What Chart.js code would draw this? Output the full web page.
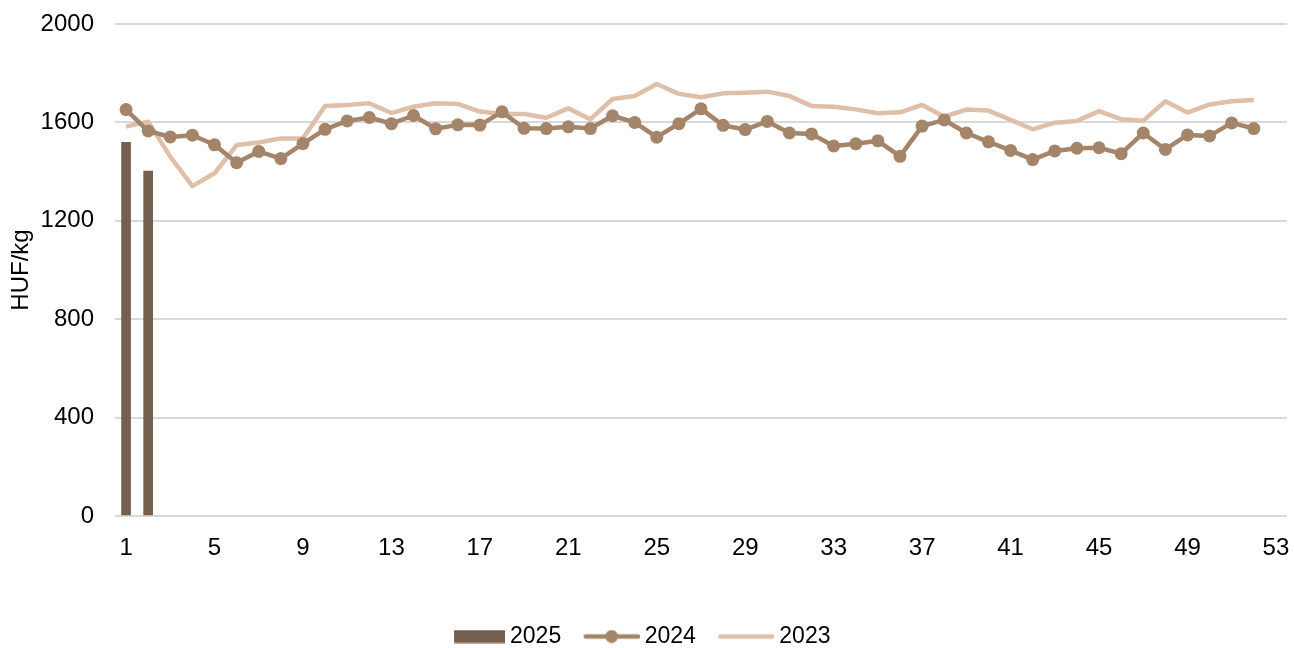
<!DOCTYPE html>
<html>
<head>
<meta charset="utf-8">
<script src="https://cdn.jsdelivr.net/npm/chart.js@4"></script>
<style>
	body { margin: 0; background: #fff; }
	#wrap { width: 1294px; height: 648px; }
</style>
</head>
<body>
<div id="wrap"><canvas id="chart"></canvas></div>
<script>
const weeks = ['1', '2', '3', '4', '5', '6', '7', '8', '9', '10', '11', '12', '13', '14', '15', '16', '17', '18',
	'19', '20', '21', '22', '23', '24', '25', '26', '27', '28', '29', '30', '31', '32', '33', '34', '35', '36',
	'37', '38', '39', '40', '41', '42', '43', '44', '45', '46', '47', '48', '49', '50', '51', '52', '53'];

const prices2025 = [1519, 1402];

const prices2024 = [1652, 1565, 1541, 1548, 1509, 1436, 1482, 1453, 1514, 1572, 1606, 1620, 1595,
	1628, 1574, 1590, 1589, 1643, 1576, 1575, 1582, 1575, 1627, 1600, 1540, 1595,
	1655, 1588, 1571, 1604, 1557, 1553, 1504, 1513, 1525, 1462, 1585, 1610, 1557,
	1521, 1486, 1449, 1484, 1495, 1497, 1473, 1557, 1490, 1549, 1545, 1598, 1575];

const prices2023 = [1583, 1603, 1461, 1341, 1393, 1508, 1518, 1535, 1535, 1667, 1671, 1678, 1638,
	1664, 1678, 1675, 1644, 1634, 1634, 1619, 1657, 1613, 1695, 1707, 1756, 1716,
	1702, 1718, 1721, 1725, 1707, 1667, 1664, 1653, 1637, 1641, 1671, 1623, 1652,
	1648, 1610, 1572, 1599, 1606, 1646, 1613, 1607, 1686, 1640, 1673, 1686, 1691];

const c2025 = '#75604e';
const c2024 = '#a5856a';
const c2023 = '#dfbfa7';

Chart.defaults.font.family = '"Liberation Sans", Arial, sans-serif';
Chart.defaults.font.size = 24;
Chart.defaults.color = '#000';

// legend icons: graphic sits at the right end so the text follows closely
const icon = (draw) => {
	const c = document.createElement('canvas');
	c.width = 75;
	c.height = 14;
	draw(c.getContext('2d'));
	return c;
};

const icons = [
	icon((g) => {
		g.fillStyle = c2025;
		g.fillRect(24, 0.5, 51, 13);
	}),
	icon((g) => {
		g.strokeStyle = c2024;
		g.lineWidth = 4.5;
		g.lineCap = 'round';
		g.beginPath();
		g.moveTo(21, 7);
		g.lineTo(73, 7);
		g.stroke();
		g.fillStyle = c2024;
		g.beginPath();
		g.arc(47, 7, 6.5, 0, Math.PI * 2);
		g.fill();
	}),
	icon((g) => {
		g.strokeStyle = c2023;
		g.lineWidth = 4.5;
		g.lineCap = 'round';
		g.beginPath();
		g.moveTo(21, 7);
		g.lineTo(73, 7);
		g.stroke();
	})
];

new Chart(document.getElementById('chart'), {
	data: {
		labels: weeks,
		datasets: [
			{
				type: 'bar',
				label: '2025',
				data: prices2025,
				backgroundColor: c2025,
				barThickness: 9
			},
			{
				type: 'line',
				label: '2024',
				data: prices2024,
				borderColor: c2024,
				backgroundColor: c2024,
				borderWidth: 4.5,
				borderJoinStyle: 'round',
				pointRadius: 6.5,
				pointBorderWidth: 0,
				pointBackgroundColor: c2024,
				lineTension: 0
			},
			{
				type: 'line',
				label: '2023',
				data: prices2023,
				borderColor: c2023,
				backgroundColor: c2023,
				borderWidth: 4.5,
				borderJoinStyle: 'round',
				pointRadius: 0,
				lineTension: 0
			}
		]
	},
	options: {
		responsive: true,
		maintainAspectRatio: false,
		animation: false,
		layout: {
			padding: { left: -20, right: 7, top: 24, bottom: -10 }
		},
		plugins: {
			tooltip: { enabled: false },
			legend: {
				position: 'bottom',
				onClick: null,
				labels: {
					usePointStyle: true,
					pointStyleWidth: 62,
					padding: 10,
					color: '#000',
					font: { size: 23 },
					generateLabels: (chart) => {
						const items = Chart.defaults.plugins.legend.labels.generateLabels(chart);
						items.forEach((item) => { item.pointStyle = icons[item.datasetIndex]; });
						return items;
					}
				}
			}
		},
		scales: {
			x: {
				grid: { display: false },
				border: { display: false },
				ticks: {
					autoSkip: false,
					maxRotation: 0,
					padding: 10,
					callback: function (v, i) {
						return i % 4 === 0 ? this.getLabelForValue(v) : '';
					}
				},
				afterFit: (scale) => {
					scale.height = 99;
					scale.paddingLeft = 0;
					scale.paddingRight = 0;
				}
			},
			y: {
				min: 0,
				max: 2000,
				ticks: {
					stepSize: 400,
					padding: 21,
					callback: (v) => String(v)
				},
				grid: { color: '#d9d9d9', lineWidth: 2, drawTicks: false },
				border: { display: false },
				title: {
					display: true,
					text: 'HUF/kg',
					font: { size: 24 },
					padding: { top: 27, bottom: 0 }
				},
				afterFit: (scale) => {
					scale.width = 135;
					scale.paddingTop = 0;
					scale.paddingBottom = 0;
				}
			}
		}
	}
});
</script>
</body>
</html>
